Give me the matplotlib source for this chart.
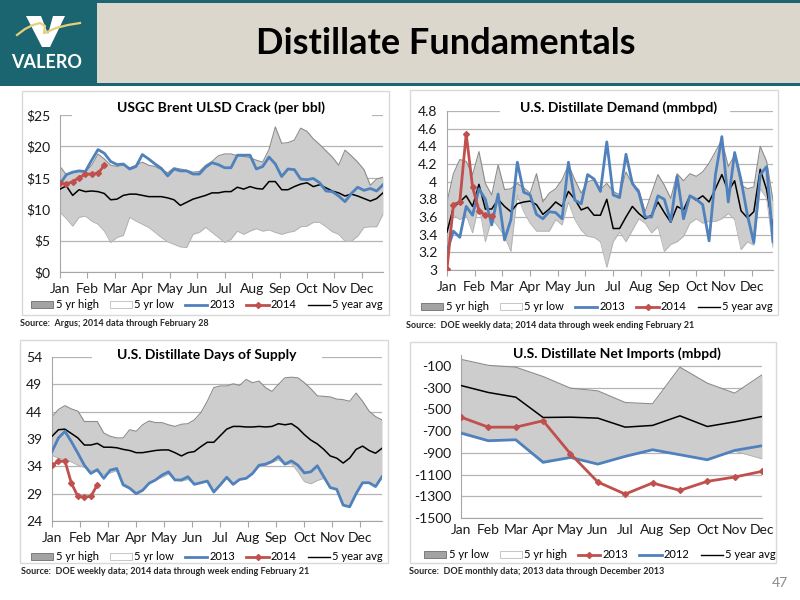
import matplotlib.pyplot as plt
from matplotlib.patches import Rectangle, Polygon, Patch
from matplotlib.lines import Line2D
import numpy as np

plt.rcParams['font.family'] = ['Lato', 'DejaVu Sans']

W, H = 800, 600
months = ['Jan', 'Feb', 'Mar', 'Apr', 'May', 'Jun', 'Jul', 'Aug', 'Sep', 'Oct', 'Nov', 'Dec']

# USGC Brent ULSD crack ($/bbl), weekly
crack_hi = [16.8, 15.5, 15.8, 16.0, 15.9, 17.0, 18.8, 18.0, 17.0, 16.8, 17.0, 16.6, 17.0, 17.5, 17.0, 16.8,
            16.3, 15.8, 16.6, 16.4, 16.2, 15.9, 16.0, 17.0, 17.6, 18.5, 18.8, 18.8, 18.5, 18.4, 18.2, 17.8,
            17.5, 19.5, 23.1, 20.5, 20.6, 21.0, 22.9, 22.4, 21.2, 20.3, 19.3, 18.3, 17.0, 19.4, 18.5, 17.5,
            16.3, 13.8, 14.8, 15.1]
crack_lo = [9.5, 8.5, 7.3, 8.7, 8.9, 8.1, 7.6, 6.5, 4.7, 5.5, 5.8, 8.7, 8.1, 7.6, 7.1, 6.3, 5.5, 4.8, 4.4,
            4.0, 3.9, 6.0, 6.3, 7.1, 6.3, 5.5, 4.7, 5.2, 6.5, 6.0, 6.5, 6.9, 6.5, 6.7, 6.3, 6.0, 6.3, 6.5,
            7.2, 7.3, 7.9, 7.9, 7.2, 6.4, 6.0, 4.9, 4.9, 5.7, 7.1, 7.2, 7.2, 9.2]
crack_2013 = [14.0, 15.5, 15.9, 16.1, 16.0, 17.8, 19.5, 18.9, 17.6, 17.1, 17.2, 16.4, 16.8, 18.7, 18.0, 17.2,
              16.5, 15.3, 16.4, 16.1, 16.1, 15.6, 15.6, 16.7, 17.4, 17.1, 16.6, 16.6, 18.6, 18.6, 18.6, 16.4,
              16.8, 18.3, 17.2, 15.2, 16.4, 16.3, 14.8, 14.7, 14.9, 14.2, 12.9, 12.8, 12.1, 11.2, 12.5, 13.5,
              13.0, 13.3, 12.9, 13.9]
crack_2014 = [14.2, 14.0, 14.4, 15.0, 15.6, 15.6, 15.7, 17.0]
crack_avg = [13.2, 13.7, 12.2, 13.1, 12.8, 12.9, 12.8, 12.5, 11.5, 11.6, 12.2, 12.4, 12.4, 12.2, 12.0, 12.0,
             12.0, 11.8, 11.5, 10.6, 11.1, 11.6, 11.9, 12.2, 12.6, 12.6, 12.8, 12.8, 13.5, 13.2, 13.6, 13.3,
             13.2, 14.4, 14.4, 13.1, 13.1, 13.6, 14.0, 14.2, 13.6, 13.9, 13.4, 12.9, 12.6, 12.1, 12.4, 12.1,
             11.7, 11.3, 11.7, 12.6]

# U.S. distillate demand (mmbpd), weekly
dem_hi = [3.77, 4.09, 4.25, 4.23, 4.08, 4.34, 3.98, 3.85, 4.19, 3.91, 3.92, 3.98, 3.93, 3.87, 4.09, 3.77,
          3.87, 3.92, 4.02, 4.19, 4.02, 3.87, 4.00, 4.02, 3.91, 3.98, 3.89, 3.85, 4.11, 3.97, 3.91, 3.66,
          3.87, 4.08, 3.96, 3.81, 4.09, 4.01, 4.09, 4.06, 4.11, 4.21, 4.34, 4.47, 4.17, 4.30, 3.96, 3.92,
          3.94, 4.40, 4.23, 3.79]
dem_lo = [3.25, 3.62, 3.57, 3.62, 3.42, 3.74, 3.32, 3.58, 3.49, 3.38, 3.21, 3.85, 3.66, 3.53, 3.44, 3.44,
          3.44, 3.57, 3.51, 3.77, 3.57, 3.45, 3.38, 3.37, 3.32, 3.03, 3.32, 3.43, 3.32, 3.45, 3.58, 3.53,
          3.42, 3.49, 3.21, 3.29, 3.32, 3.38, 3.53, 3.58, 3.53, 3.55, 3.55, 3.58, 3.64, 3.57, 3.23, 3.32,
          3.28, 3.92, 3.81, 3.25]
dem_2013 = [3.21, 3.44, 3.37, 3.72, 3.62, 3.92, 3.80, 3.51, 3.86, 3.34, 3.57, 4.22, 3.88, 3.85, 3.63, 3.58,
            3.66, 3.65, 3.58, 4.22, 3.79, 3.75, 4.08, 4.03, 3.89, 4.45, 3.85, 3.82, 4.31, 3.98, 3.88, 3.60,
            3.60, 3.84, 3.80, 3.55, 4.06, 3.58, 3.84, 3.80, 3.74, 3.33, 4.08, 4.51, 3.77, 4.33, 4.02, 3.62,
            3.31, 4.08, 4.17, 3.32]
dem_2014 = [3.01, 3.74, 3.77, 4.54, 3.94, 3.67, 3.62, 3.61]
dem_avg = [3.43, 3.71, 3.77, 3.84, 3.72, 3.97, 3.69, 3.69, 3.80, 3.72, 3.66, 3.75, 3.77, 3.78, 3.74, 3.63,
           3.69, 3.77, 3.72, 3.89, 3.80, 3.68, 3.71, 3.62, 3.62, 3.80, 3.47, 3.47, 3.60, 3.72, 3.64, 3.58,
           3.62, 3.77, 3.65, 3.54, 3.72, 3.68, 3.84, 3.79, 3.84, 3.77, 3.92, 4.08, 3.89, 4.01, 3.67, 3.59,
           3.66, 4.14, 3.91, 3.47]

# U.S. distillate days of supply, weekly
dos_hi = [43.1, 44.4, 45.1, 44.5, 44.1, 42.2, 42.2, 42.2, 40.1, 39.5, 39.2, 39.2, 40.7, 40.4, 41.6, 42.3,
          42.0, 42.0, 41.6, 41.3, 41.7, 41.8, 42.5, 43.8, 45.9, 48.4, 48.7, 48.7, 49.1, 48.8, 49.9, 49.3,
          49.6, 48.4, 47.7, 49.0, 50.2, 50.3, 50.2, 49.3, 48.2, 46.9, 46.8, 46.7, 46.3, 46.2, 45.9, 47.4,
          45.9, 44.1, 43.1, 42.5]
dos_lo = [36.0, 35.5, 35.2, 34.8, 34.2, 33.8, 33.2, 33.0, 32.5, 32.8, 33.2, 31.0, 30.2, 29.2, 29.8, 30.9,
          31.5, 32.0, 32.6, 31.5, 31.3, 31.6, 30.7, 31.0, 31.3, 29.3, 30.6, 31.8, 30.7, 31.6, 31.8, 32.7,
          34.0, 34.2, 34.7, 35.2, 34.3, 34.5, 33.0, 31.2, 30.8, 31.4, 31.8, 30.1, 29.8, 26.9, 26.6, 29.0,
          31.0, 31.0, 30.3, 32.1]
dos_2013 = [36.7, 39.2, 40.4, 38.5, 36.4, 34.2, 32.7, 33.4, 31.8, 33.3, 33.6, 30.6, 30.0, 29.0, 29.6, 30.9,
            31.5, 32.4, 33.0, 31.5, 31.5, 32.1, 30.7, 31.0, 31.3, 29.3, 30.6, 32.0, 30.7, 31.6, 31.8, 32.7,
            34.2, 34.4, 34.9, 35.8, 34.4, 35.0, 34.2, 32.8, 33.0, 34.1, 32.1, 30.1, 29.8, 26.9, 26.6, 29.0,
            31.0, 31.0, 30.3, 32.1]
dos_2014 = [34.2, 34.9, 35.0, 30.9, 28.5, 28.4, 28.5, 30.6]
dos_avg = [39.5, 40.7, 40.8, 40.0, 39.2, 37.9, 37.9, 38.2, 37.5, 37.5, 37.4, 37.1, 36.9, 36.5, 36.5, 36.7,
           36.9, 37.0, 37.0, 36.5, 35.9, 36.5, 36.7, 37.6, 38.4, 38.4, 39.6, 40.8, 41.3, 41.3, 41.2, 41.2,
           41.3, 41.2, 41.3, 41.8, 41.6, 41.8, 41.0, 39.8, 38.8, 38.1, 37.1, 35.9, 35.5, 34.6, 35.5, 37.1,
           37.7, 36.9, 36.4, 37.3]

# U.S. distillate net imports (mbpd), monthly
imp_hi = [-40, -95, -112, -198, -305, -330, -437, -449, -112, -259, -351, -183]
imp_lo = [-703, -785, -780, -973, -940, -1000, -930, -870, -915, -960, -885, -955]
imp_2013 = [-572, -664, -664, -605, -909, -1169, -1280, -1178, -1246, -1163, -1123, -1071]
imp_2012 = [-719, -789, -780, -988, -943, -1004, -933, -872, -918, -964, -878, -835]
imp_avg = [-281, -345, -388, -575, -572, -581, -664, -648, -560, -658, -615, -566]

teal = '#1b6570'
beige = '#dcd7cc'
blue = '#4f81bd'
red = '#c0504d'
band = '#cdcdcd'
grid = '#b4b4b4'


def frac(x, y):
    return x / W, 1 - y / H


def rect(x0, y0, x1, y1):
    return [x0 / W, 1 - y1 / H, (x1 - x0) / W, (y1 - y0) / H]


def fig_box(x0, y0, x1, y1, **kw):
    fig.patches.append(Rectangle(frac(x0, y1), (x1 - x0) / W, (y1 - y0) / H,
                                 transform=fig.transFigure, **kw))


fig = plt.figure(figsize=(8, 6), dpi=100)

# header
fig_box(0, 0, 800, 86, facecolor=teal, edgecolor='none')
fig_box(97, 3, 800, 83, facecolor=beige, edgecolor='none')
fig_box(0, 0, 96, 83, facecolor=teal, edgecolor='none')
v_pts = [(26, 16), (41, 16), (48, 34), (53, 16), (65, 16), (50, 47), (42, 47)]
fig.patches.append(Polygon([frac(x, y) for x, y in v_pts], closed=True, transform=fig.transFigure,
                           facecolor='white', edgecolor='none'))
sw = [(17, 35), (25, 29), (33, 25), (40, 23), (45, 26), (44, 33), (47, 32), (56, 28), (68, 25), (80, 23)]
fig.lines.append(Line2D([frac(x, y)[0] for x, y in sw], [frac(x, y)[1] for x, y in sw],
                        transform=fig.transFigure, color='#e6cf78', lw=1.6))
fig.text(47 / W, 1 - 62 / H, 'VALERO', color='white', fontsize=13, fontweight='bold',
         ha='center', va='center')
fig.text(446 / W, 1 - 43 / H, 'Distillate Fundamentals', color='black', fontsize=26,
         fontweight='bold', ha='center', va='center')
fig.text(780 / W, 1 - 583 / H, '47', color='#8c8c8c', fontsize=10, ha='center', va='center')


def style_axes(ax):
    ax.set_axisbelow(True)
    ax.yaxis.grid(True, color=grid, lw=0.9)
    for s in ['top', 'right']:
        ax.spines[s].set_visible(False)
    for s in ['left', 'bottom']:
        ax.spines[s].set_color('#a6a6a6')
    ax.tick_params(axis='x', length=4, color='#a6a6a6', pad=4, labelsize=10, labelcolor='#1a1a1a')
    ax.tick_params(axis='y', length=0, pad=7, labelsize=10, labelcolor='#1a1a1a')


def title_box(x0, x1, yc, text, tx):
    fig_box(x0, yc - 10, x1, yc + 9, facecolor='white', edgecolor='none')
    fig.text(tx / W, 1 - yc / H, text, fontsize=10, fontweight='bold', ha='center', va='center')


def add_legend(ax, handles, labels, cx, cy):
    ax.legend(handles, labels, ncol=5, loc='center', bbox_to_anchor=frac(cx, cy),
              bbox_transform=fig.transFigure, frameon=False, fontsize=8, handlelength=2.0,
              handleheight=0.55, handletextpad=0.2, columnspacing=1.0, borderpad=0)


def weekly_panel(box, plot, title, tbox, ylim, yticks, ylabels, hi, lo, s13, s14, avg, src, src_xy, leg):
    fig_box(*box, fill=False, edgecolor='#d9d9d9', lw=1)
    ax = fig.add_axes(rect(*plot))
    wk = np.arange(len(hi))
    ax.fill_between(wk, lo, hi, color=band, lw=0, zorder=1)
    ax.plot(wk, hi, color='#8c8c8c', lw=0.8, zorder=2)
    ax.plot(wk, lo, color='#b0b0b0', lw=0.6, zorder=2)
    ax.plot(wk, avg, color='black', lw=1.1, zorder=3)
    ax.plot(wk, s13, color=blue, lw=2, zorder=4)
    ax.plot(np.arange(len(s14)), s14, color=red, lw=2, marker='D', ms=3, zorder=5)
    ax.set_xlim(0, len(hi) - 1)
    ax.set_ylim(*ylim)
    ax.set_xticks(np.arange(12) * 52 / 12)
    ax.set_xticklabels(months)
    ax.set_yticks(yticks)
    ax.set_yticklabels(ylabels)
    style_axes(ax)
    title_box(tbox[0], tbox[1], tbox[2], title, tbox[3])
    handles = [Patch(facecolor='#a3a3a3', edgecolor='#6e6e6e', lw=0.6),
               Patch(facecolor='white', edgecolor='#bdbdbd', lw=0.6),
               Line2D([], [], color=blue, lw=2),
               Line2D([], [], color=red, lw=2, marker='D', ms=3),
               Line2D([], [], color='black', lw=1)]
    add_legend(ax, handles, ['5 yr high', '5 yr low', '2013', '2014', '5 year avg'], leg[0], leg[1])
    fig.text(src_xy[0] / W, 1 - src_xy[1] / H, src, fontsize=6.5, fontweight='bold', color='#262626',
             ha='left', va='center')
    return ax


weekly_panel((22, 91, 389, 315), (60, 115, 383, 272), 'USGC Brent ULSD Crack (per bbl)',
             (72, 372, 108, 221), (0, 25), [0, 5, 10, 15, 20, 25],
             ['$0', '$5', '$10', '$15', '$20', '$25'],
             crack_hi, crack_lo, crack_2013, crack_2014, crack_avg,
             'Source:  Argus; 2014 data through February 28', (20, 324), (207, 305))

dem_ticks = [3.0, 3.2, 3.4, 3.6, 3.8, 4.0, 4.2, 4.4, 4.6, 4.8]
weekly_panel((410, 90, 778, 315), (447, 111, 773, 270), 'U.S. Distillate Demand (mmbpd)',
             (500, 730, 108, 619), (3, 4.8), dem_ticks, ['%g' % t for t in dem_ticks],
             dem_hi, dem_lo, dem_2013, dem_2014, dem_avg,
             'Source:  DOE weekly data; 2014 data through week ending February 21', (406, 326), (597, 307))

weekly_panel((20, 340, 388, 563), (52, 357, 382, 521), 'U.S. Distillate Days of Supply',
             (92, 322, 355, 207), (24, 54), [24, 29, 34, 39, 44, 49, 54],
             ['24', '29', '34', '39', '44', '49', '54'],
             dos_hi, dos_lo, dos_2013, dos_2014, dos_avg,
             'Source:  DOE weekly data; 2014 data through week ending February 21', (21, 571), (207, 557))

# net imports panel (monthly)
fig_box(410, 342, 776, 563, fill=False, edgecolor='#d9d9d9', lw=1)
ax = fig.add_axes(rect(461, 355, 762, 518))
mo = np.arange(12)
ax.fill_between(mo, imp_lo, imp_hi, color=band, lw=0, zorder=1)
ax.plot(mo, imp_hi, color='#8c8c8c', lw=0.8, zorder=2)
ax.plot(mo, imp_lo, color='#b0b0b0', lw=0.6, zorder=2)
ax.plot(mo, imp_avg, color='black', lw=1.1, zorder=3)
ax.plot(mo, imp_2012, color=blue, lw=2, zorder=4)
ax.plot(mo, imp_2013, color=red, lw=2, marker='D', ms=3, zorder=5)
ax.set_xlim(0, 11)
ax.set_ylim(-1500, 0)
ax.set_xticks(mo)
ax.set_xticklabels(months)
ax.set_yticks(np.arange(-1500, 0, 200))
ax.set_yticklabels([str(t) for t in np.arange(-1500, 0, 200)])
style_axes(ax)
ax.tick_params(axis='x', length=0)
title_box(500, 737, 354, 'U.S. Distillate Net Imports (mbpd)', 617)
handles = [Patch(facecolor='#a3a3a3', edgecolor='#6e6e6e', lw=0.6),
           Patch(facecolor='white', edgecolor='#bdbdbd', lw=0.6),
           Line2D([], [], color=red, lw=2, marker='D', ms=3),
           Line2D([], [], color=blue, lw=2),
           Line2D([], [], color='black', lw=1)]
add_legend(ax, handles, ['5 yr low', '5 yr high', '2013', '2012', '5 year avg'], 600, 555)
fig.text(409 / W, 1 - 571 / H, 'Source:  DOE monthly data; 2013 data through December 2013', fontsize=6.5,
         fontweight='bold', color='#262626', ha='left', va='center')

fig.savefig('out.png', dpi=100)
